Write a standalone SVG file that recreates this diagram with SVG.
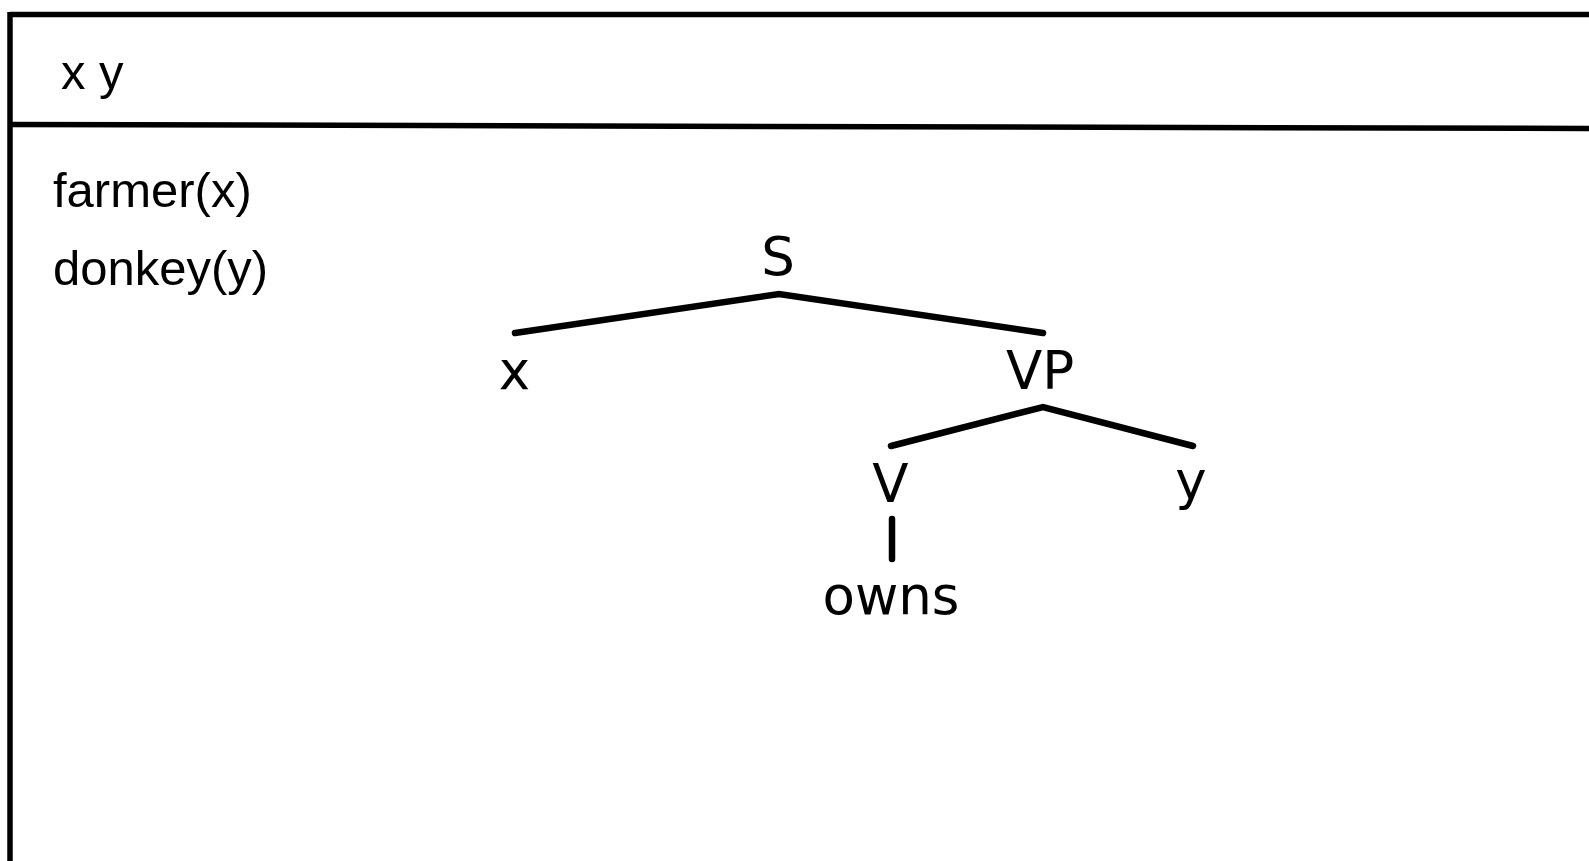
<svg xmlns="http://www.w3.org/2000/svg" width="1589" height="861" viewBox="0 0 1589 861">
<style>
.frame{stroke:#000;stroke-width:5.5;fill:none}
.cond{font-family:"Liberation Sans",Arial,sans-serif;font-size:49px;fill:#000}
.lbl{font-family:"DejaVu Sans",sans-serif;font-size:53px;fill:#000;text-anchor:middle}
.edge{stroke:#000;stroke-width:6.5;fill:none;stroke-linecap:round;stroke-linejoin:miter}
</style>
<rect width="1589" height="861" fill="#fff"/>
<g id="box">
<line class="frame" x1="10" y1="14.5" x2="1595" y2="14.5"/>
<line class="frame" x1="10" y1="12" x2="10" y2="870"/>
<line class="frame" x1="10" y1="124.5" x2="1595" y2="128.5"/>
</g>
<g id="universe"><text class="cond" x="61" y="89">x y</text></g>
<g id="cond-farmer"><text class="cond" x="53" y="207">farmer(x)</text></g>
<g id="cond-donkey"><text class="cond" x="53" y="285">donkey(y)</text></g>
<g id="connectors">
<polyline class="edge" points="515,333 779,294 1043,333"/>
<polyline class="edge" points="891,446 1043,407 1193,446"/>
<line class="edge" x1="892" y1="519" x2="892" y2="559"/>
</g>
<g id="node-S"><text class="lbl" x="778" y="275">S</text></g>
<g id="node-x"><text class="lbl" x="514.5" y="389">x</text></g>
<g id="node-VP"><text class="lbl" x="1040" y="389">VP</text></g>
<g id="node-V"><text class="lbl" x="890.5" y="502">V</text></g>
<g id="node-y"><text class="lbl" x="1191" y="499">y</text></g>
<g id="node-owns"><text class="lbl" x="891" y="614">owns</text></g>
</svg>
